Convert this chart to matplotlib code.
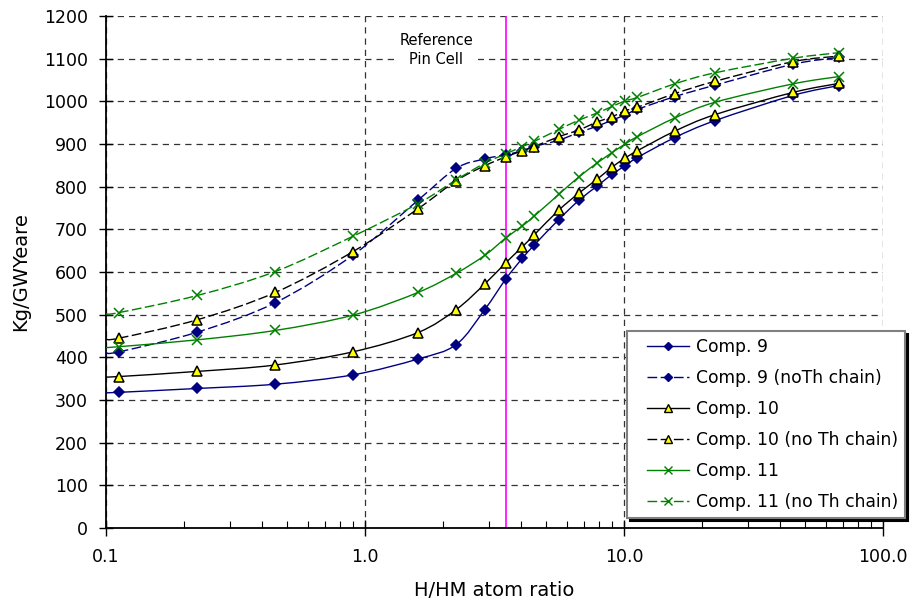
import numpy as np
import matplotlib
matplotlib.use("Agg")
import matplotlib.pyplot as plt
from matplotlib.path import Path
from matplotlib.patches import PathPatch
from matplotlib.lines import Line2D
from matplotlib.legend_handler import HandlerLine2D
from matplotlib.ticker import FixedLocator, FixedFormatter, LogLocator, NullFormatter

plt.rcParams["font.family"] = ["DejaVu Sans"]

# H/HM atom ratio (first value is where the curves meet the left axis, no marker)
h_hm = [0.1, 0.1125, 0.225, 0.45, 0.9, 1.6, 2.25, 2.9, 3.5, 4.05, 4.5,
        5.6, 6.7, 7.9, 9.0, 10.1, 11.25, 15.7, 22.5, 45.0, 67.5]

comp9 = [317, 318, 327, 337, 359, 396, 430, 512, 584, 632, 663,
         723, 768, 802, 829, 849, 868, 915, 955, 1014, 1037]
comp9_noth = [411, 413, 459, 528, 640, 768, 843, 865, 875, 884, 894,
              909, 927, 942, 956, 968, 981, 1011, 1038, 1087, 1103]
comp10 = [354, 355, 367, 382, 413, 458, 512, 572, 622, 659, 687,
          745, 785, 818, 846, 867, 884, 930, 969, 1021, 1042]
comp10_noth = [443, 445, 488, 552, 648, 748, 814, 849, 870, 884, 894,
               917, 933, 952, 964, 978, 986, 1018, 1047, 1093, 1106]
comp11 = [423, 425, 441, 463, 499, 552, 597, 639, 680, 708, 731,
          782, 823, 856, 880, 900, 917, 961, 998, 1041, 1058]
comp11_noth = [502, 505, 545, 601, 684, 760, 816, 855, 877, 894, 906,
               934, 956, 973, 988, 1001, 1009, 1041, 1067, 1101, 1114]

ref_pin_cell = 3.5

labels = ["Comp. 9", "Comp. 9 (noTh chain)", "Comp. 10",
          "Comp. 10 (no Th chain)", "Comp. 11", "Comp. 11 (no Th chain)"]
series = [comp9, comp9_noth, comp10, comp10_noth, comp11, comp11_noth]

NAVY = "#000080"
GREEN = "#008000"
DASH = (0, (7, 2.5))
styles = [
    dict(color=NAVY, ls="-", marker="D", mfc=NAVY, mec=NAVY, ms=5.5),
    dict(color=NAVY, ls=DASH, marker="D", mfc=NAVY, mec=NAVY, ms=5.5),
    dict(color="black", ls="-", marker="^", mfc="#ffff00", mec="black", ms=7),
    dict(color="black", ls=DASH, marker="^", mfc="#ffff00", mec="black", ms=7),
    dict(color=GREEN, ls="-", marker="x", mfc=GREEN, mec=GREEN, ms=7),
    dict(color=GREEN, ls=DASH, marker="x", mfc=GREEN, mec=GREEN, ms=7),
]


def smooth_path(x, y):
    # Excel-like smoothed line: Catmull-Rom Bezier in log-x space
    p = np.column_stack([np.log10(x), np.asarray(y, float)])
    n = len(p)
    verts = [p[0]]
    codes = [Path.MOVETO]
    for i in range(n - 1):
        p0 = p[max(i - 1, 0)]
        p1 = p[i]
        p2 = p[i + 1]
        p3 = p[min(i + 2, n - 1)]
        verts += [p1 + (p2 - p0) / 6, p2 - (p3 - p1) / 6, p2]
        codes += [Path.CURVE4] * 3
    verts = np.array(verts)
    verts[:, 0] = 10 ** verts[:, 0]
    return Path(verts, codes)


fig = plt.figure(figsize=(9.14, 6.08), dpi=100)
ax = fig.add_axes([106 / 914, 1 - 528 / 608, 777 / 914, 512 / 608])

ax.set_xscale("log")
ax.set_xlim(0.1, 100)
ax.set_ylim(0, 1200)

handles = []
for vals, lab, st in zip(series, labels, styles):
    ax.add_patch(PathPatch(smooth_path(h_hm, vals), fill=False,
                           edgecolor=st["color"], linestyle=st["ls"],
                           linewidth=1.0, zorder=3))
    ax.plot(h_hm[1:], vals[1:], linestyle="none", marker=st["marker"],
            markersize=st["ms"], markerfacecolor=st["mfc"],
            markeredgecolor=st["mec"], markeredgewidth=1.1, zorder=4)
    handles.append(Line2D([], [], color=st["color"], linestyle=st["ls"],
                          linewidth=1.0, marker=st["marker"],
                          markersize=st["ms"] * 0.75,
                          markerfacecolor=st["mfc"],
                          markeredgecolor=st["mec"], label=lab))

ax.axvline(ref_pin_cell, color="#ff00ff", linewidth=1.2, zorder=2)
ax.text(1.88, 1120, "Reference\nPin Cell", ha="center", va="center",
        fontsize=10.5, linespacing=1.3, zorder=2,
        bbox=dict(facecolor="white", edgecolor="none", pad=4))

# axes / ticks
ax.set_yticks(range(0, 1201, 100))
ax.xaxis.set_major_locator(FixedLocator([0.1, 1, 10, 100]))
ax.xaxis.set_major_formatter(FixedFormatter(["0.1", "1.0", "10.0", "100.0"]))
ax.xaxis.set_minor_locator(LogLocator(base=10, subs=np.arange(2, 10)))
ax.xaxis.set_minor_formatter(NullFormatter())
ax.tick_params(axis="x", which="major", direction="inout", length=11,
               width=1.0, pad=9, labelsize=12.5)
ax.tick_params(axis="x", which="minor", direction="in", length=5, width=0.8)
ax.tick_params(axis="y", which="major", direction="inout", length=10,
               width=1.0, pad=8, labelsize=12.5)

for s in ("top", "right"):
    ax.spines[s].set_visible(False)
for s in ("left", "bottom"):
    ax.spines[s].set_linewidth(1.3)

ax.grid(True, which="major", color="#333333", linestyle=(0, (5, 4)),
        linewidth=0.9, zorder=1)
ax.set_axisbelow(True)

ax.set_xlabel("H/HM atom ratio", fontsize=14)
ax.set_ylabel("Kg/GWYeare", fontsize=14)
ax.xaxis.set_label_coords(0.5, -0.104)
ax.yaxis.set_label_coords(-0.098, 0.5)

leg = ax.legend(handles=handles, loc="upper left",
                bbox_to_anchor=(627 / 914, 1 - 331 / 608),
                bbox_transform=fig.transFigure, borderaxespad=0,
                fontsize=12.3, frameon=True, fancybox=False, framealpha=1,
                edgecolor="#808080", handlelength=3.2, handletextpad=0.42,
                labelspacing=0.76, borderpad=0.42,
                handler_map={Line2D: HandlerLine2D(xpad=0.75)},
                shadow={"facecolor": "black", "edgecolor": "black",
                        "alpha": 1.0})
leg.get_frame().set_linewidth(1.5)
leg.set_zorder(10)

fig.savefig("out.png", dpi=100)
